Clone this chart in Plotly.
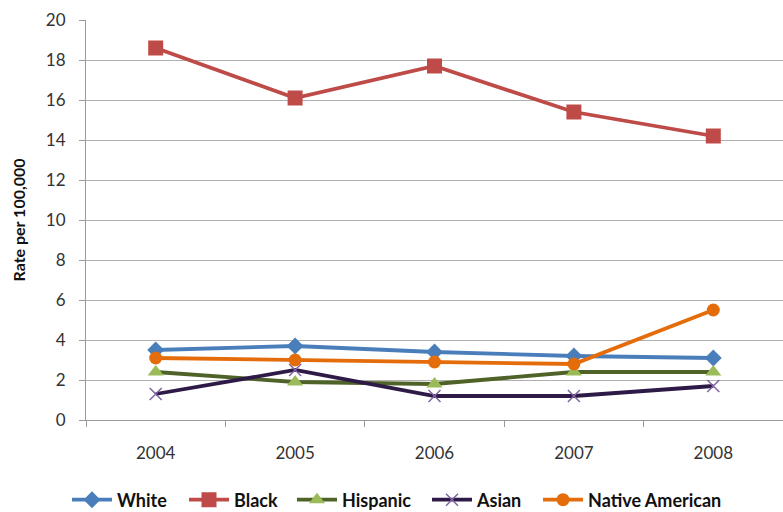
import plotly.graph_objects as go

years = ["2004", "2005", "2006", "2007", "2008"]
white = [3.5, 3.7, 3.4, 3.2, 3.1]
black = [18.6, 16.1, 17.7, 15.4, 14.2]
hispanic = [2.4, 1.9, 1.8, 2.4, 2.4]
asian = [1.3, 2.5, 1.2, 1.2, 1.7]
native = [3.1, 3.0, 2.9, 2.8, 5.5]
y_ticks = [0, 2, 4, 6, 8, 10, 12, 14, 16, 18, 20]

FONT = "Lato, sans-serif"
PLOT_L, PLOT_W = 86, 697

fig = go.Figure()
series = [
    ("White", white, "#4A7EBB", "#4A7EBB", "diamond", 13, 67),
    ("Black", black, "#BE4B48", "#BE4B48", "square", 15, 184),
    ("Hispanic", hispanic, "#4F6228", "#9BBB59", "triangle-up", 14, 292),
    ("Asian", asian, "#2E1A47", "#8064A2", "x-thin", 12, 427),
    ("Native American", native, "#E46C0A", "#E46C0A", "circle", 13, 538),
]
legend_layout = {}
for i, (name, vals, lc, mc, sym, sz, lx) in enumerate(series):
    marker = dict(symbol=sym, size=sz, color=mc)
    if sym == "x-thin":
        marker["line"] = dict(color=mc, width=1.5)
    lname = "legend" if i == 0 else f"legend{i + 1}"
    fig.add_trace(go.Scatter(
        x=years, y=vals, name=name, mode="lines+markers",
        line=dict(color=lc, width=3.8), marker=marker, legend=lname,
    ))
    legend_layout[lname] = dict(
        orientation="h", x=(lx - PLOT_L) / PLOT_W, xanchor="left",
        y=-0.2, yanchor="middle", bgcolor="rgba(0,0,0,0)",
        font=dict(family=FONT, size=18, color="#111", weight="bold"),
        itemwidth=40,
    )

fig.update_layout(
    width=783, height=512,
    margin=dict(l=PLOT_L, r=0, t=20, b=92, autoexpand=False),
    paper_bgcolor="white", plot_bgcolor="white",
    font=dict(family=FONT, size=17, color="#222"),
    showlegend=True,
    **legend_layout,
)
fig.update_xaxes(
    type="category", range=[-0.5, 4.5], automargin=False,
    showline=True, linecolor="#9a9a9a", linewidth=1,
    ticks="outside", tickson="boundaries", ticklen=6, tickcolor="#9a9a9a",
    showgrid=False, tickfont=dict(size=17, color="#333"), ticklabelstandoff=18,
)
fig.update_yaxes(
    range=[0, 20], tickvals=y_ticks, automargin=False,
    showline=True, linecolor="#9a9a9a", linewidth=1,
    ticks="outside", ticklen=6, tickcolor="#9a9a9a",
    showgrid=True, gridcolor="#b0b0b0", gridwidth=1.3,
    zeroline=False, tickfont=dict(size=17, color="#333"), ticklabelstandoff=10,
    title=dict(text="<b>Rate per 100,000</b>", font=dict(size=16, color="#111"), standoff=16),
)

fig.write_html(
    "out.html",
    config={"displayModeBar": False},
    post_script="document.body.style.margin='0';document.body.style.overflow='hidden';",
)
